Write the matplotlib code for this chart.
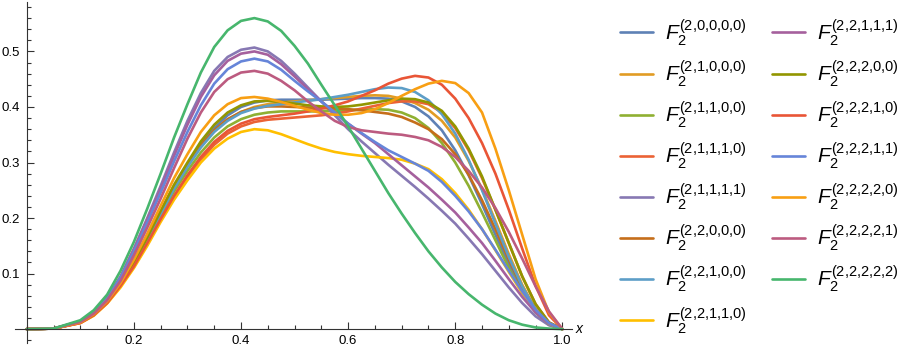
import numpy as np
import matplotlib.pyplot as plt
from matplotlib.ticker import MultipleLocator

plt.rcParams['font.family'] = ['Liberation Sans', 'DejaVu Sans']
plt.rcParams['mathtext.fontset'] = 'custom'
plt.rcParams['mathtext.rm'] = 'Liberation Sans'
plt.rcParams['mathtext.it'] = 'Liberation Sans:italic'

xs = [0, 0.05, 0.1, 0.125, 0.15, 0.175, 0.2, 0.225, 0.25, 0.275, 0.3, 0.325, 0.35,
      0.375, 0.4, 0.425, 0.45, 0.475, 0.5, 0.525, 0.55, 0.575, 0.6, 0.625, 0.65,
      0.675, 0.7, 0.725, 0.75, 0.775, 0.8, 0.825, 0.85, 0.875, 0.9, 0.925, 0.95,
      0.975, 1.0]

labels = ['2,0,0,0,0', '2,1,0,0,0', '2,1,1,0,0', '2,1,1,1,0', '2,1,1,1,1',
          '2,2,0,0,0', '2,2,1,0,0', '2,2,1,1,0', '2,2,1,1,1', '2,2,2,0,0',
          '2,2,2,1,0', '2,2,2,1,1', '2,2,2,2,0', '2,2,2,2,1', '2,2,2,2,2']

colors = ['#5E81B5', '#E19C24', '#8FB032', '#EB6235', '#8778B3',
          '#C56E1A', '#5D9EC7', '#FFBF00', '#A5609D', '#929600',
          '#E95536', '#6685D9', '#F89F13', '#BC5B80', '#47B66D']

f20000 = [0, .001, .012, .026, .048, .08, .118, .162, .21, .257, .297, .333, .362, .385,
          .4, .408, .412, .413, .413, .413, .413, .414, .415, .416, .416, .415, .41, .4,
          .383, .358, .322, .277, .225, .17, .117, .07, .032, .008, 0]
f21000 = [0, .001, .012, .026, .049, .08, .119, .163, .21, .256, .295, .33, .357, .377,
          .391, .4, .405, .408, .41, .412, .414, .416, .418, .42, .421, .42, .415, .407,
          .395, .375, .345, .303, .252, .195, .135, .08, .036, .009, 0]
f21100 = [0, .001, .012, .026, .048, .079, .117, .16, .205, .248, .285, .318, .345, .365,
          .378, .386, .39, .392, .392, .392, .392, .393, .394, .395, .396, .395, .39, .38,
          .362, .335, .3, .258, .21, .16, .11, .066, .03, .008, 0]
f21110 = [0, .001, .011, .025, .047, .077, .112, .153, .196, .238, .274, .305, .332, .352,
          .365, .373, .377, .379, .381, .383, .385, .388, .392, .397, .402, .407, .41, .41,
          .405, .39, .362, .322, .272, .215, .155, .095, .045, .012, 0]
f21111 = [0, .001, .014, .03, .056, .095, .145, .2, .258, .318, .375, .425, .465, .49,
          .503, .507, .5, .483, .46, .435, .41, .385, .36, .338, .317, .296, .276, .256,
          .235, .213, .19, .163, .135, .105, .075, .047, .023, .007, 0]
f22000 = [0, .001, .012, .026, .049, .08, .119, .163, .21, .256, .296, .331, .358, .378,
          .391, .398, .401, .401, .4, .399, .398, .397, .396, .394, .391, .388, .382, .372,
          .36, .342, .315, .278, .232, .18, .125, .075, .035, .009, 0]
f22100 = [0, .001, .012, .026, .048, .079, .117, .16, .207, .253, .292, .327, .355, .375,
          .389, .397, .402, .405, .408, .411, .414, .418, .422, .427, .432, .435, .434, .427,
          .412, .387, .352, .305, .25, .19, .13, .077, .035, .009, 0]
f22110 = [0, .001, .011, .024, .046, .075, .11, .15, .193, .233, .268, .3, .325, .343,
          .355, .36, .358, .351, .342, .333, .325, .319, .315, .312, .31, .308, .305, .298,
          .288, .27, .245, .215, .18, .142, .103, .065, .033, .01, 0]
f22111 = [0, .001, .014, .03, .055, .093, .143, .197, .253, .312, .368, .418, .457, .483,
          .496, .5, .494, .477, .455, .432, .41, .39, .37, .352, .335, .315, .295, .275,
          .255, .233, .21, .183, .155, .123, .09, .058, .03, .01, 0]
f22200 = [0, .001, .012, .026, .049, .081, .12, .165, .213, .26, .3, .338, .368, .39,
          .403, .41, .411, .409, .406, .403, .401, .4, .401, .404, .408, .412, .415, .414,
          .408, .393, .365, .325, .275, .215, .155, .095, .045, .012, 0]
f22210 = [0, .001, .011, .025, .047, .078, .113, .155, .198, .24, .277, .31, .337, .357,
          .37, .378, .382, .385, .388, .392, .397, .403, .41, .42, .43, .442, .451, .456,
          .453, .44, .415, .38, .335, .28, .215, .145, .078, .025, 0]
f22211 = [0, .001, .014, .03, .055, .092, .14, .192, .246, .302, .355, .403, .442, .468,
          .482, .487, .482, .467, .447, .428, .41, .39, .37, .353, .337, .322, .31, .298,
          .285, .265, .24, .212, .18, .143, .105, .068, .035, .011, 0]
f22220 = [0, .001, .012, .027, .05, .083, .125, .172, .222, .272, .315, .355, .385, .405,
          .416, .418, .415, .409, .402, .395, .389, .386, .386, .389, .396, .407, .42, .432,
          .442, .447, .443, .425, .39, .325, .25, .17, .09, .03, 0]
f22221 = [0, .001, .013, .028, .052, .087, .133, .183, .235, .29, .343, .39, .427, .45,
          .462, .465, .46, .447, .43, .41, .392, .375, .364, .358, .355, .352, .35, .346,
          .34, .328, .31, .285, .255, .218, .175, .127, .077, .032, 0]
f22222 = [0, .001, .016, .034, .062, .105, .157, .217, .28, .345, .405, .462, .508, .538,
          .555, .56, .554, .537, .51, .478, .44, .403, .365, .325, .285, .245, .208, .173,
          .14, .111, .085, .063, .044, .028, .016, .008, .003, .001, 0]

series = [f20000, f21000, f21100, f21110, f21111, f22000, f22100, f22110,
          f22111, f22200, f22210, f22211, f22220, f22221, f22222]

fig = plt.figure(figsize=(9, 3.48), dpi=100)
ax = fig.add_axes([15 / 900, 5 / 348, 557 / 900, 341 / 348])

for ys, lab, c in zip(series, labels, colors):
    sup = lab.replace(',', '{,}')
    ax.plot(xs, ys, color=c, lw=1.9, label=r'$F_2^{(' + sup + ')}$',
            solid_capstyle='round', solid_joinstyle='round')

ax.set_xlim(-0.022, 1.018)
ax.set_ylim(-0.025, 0.589)
ax.spines['left'].set_position(('data', 0))
ax.spines['bottom'].set_position(('data', 0))
ax.spines['top'].set_visible(False)
ax.spines['right'].set_visible(False)
ax.xaxis.set_minor_locator(MultipleLocator(0.05))
ax.yaxis.set_minor_locator(MultipleLocator(0.02))
ax.set_xticks([0.2, 0.4, 0.6, 0.8, 1.0])
ax.set_xticklabels(['0.2', '0.4', '0.6', '0.8', '1.0'])
ax.set_yticks([0.1, 0.2, 0.3, 0.4, 0.5])
ax.set_yticklabels(['0.1', '0.2', '0.3', '0.4', '0.5'])
ax.tick_params(which='both', direction='in', labelsize=9.5, width=0.8, color='#333333')
ax.tick_params(which='major', length=5)
ax.tick_params(which='minor', length=3)
ax.tick_params(axis='x', pad=4)
ax.tick_params(axis='y', pad=5)
for s in ['left', 'bottom']:
    ax.spines[s].set_color('#333333')
    ax.spines[s].set_linewidth(0.8)
ax.text(1.025, 0, 'x', fontsize=10, style='italic', va='center', ha='left')

handles, labs = ax.get_legend_handles_labels()
fig.legend(handles, labs, ncol=2, loc='upper left', bbox_to_anchor=(620 / 900, 1 - 17 / 348),
           frameon=False, fontsize=15, handlelength=1.59, handletextpad=0.58,
           columnspacing=1.2, labelspacing=0.5, borderpad=0, borderaxespad=0)

fig.savefig('out.png', dpi=100)
